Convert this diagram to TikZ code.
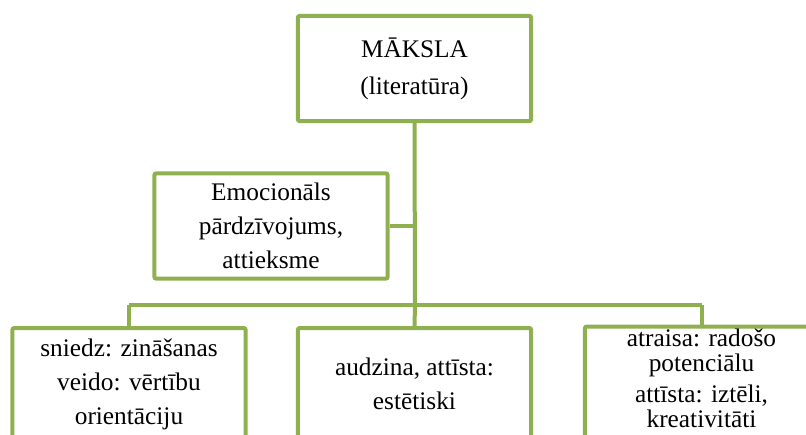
\documentclass[tikz,border=0pt]{standalone}
\usepackage{fontspec}
\setmainfont{Liberation Serif}
\usepackage{xcolor}
\usepackage{tikz}
\usetikzlibrary{positioning, calc}

\definecolor{leafgreen}{RGB}{142,176,78}

\begin{document}
\begin{tikzpicture}[
    x=0.75pt,
    y=-0.75pt,
    tree_box/.style={
        rectangle,
        draw=leafgreen,
        fill=white,
        line width=3pt,
        rounded corners=1.5pt,
        minimum width=175pt,
        minimum height=79pt,
        inner sep=2pt,
        align=center,
        font=\fontsize{19}{25.5}\selectfont
    },
    low_box/.style={tree_box, minimum height=84pt},
    link/.style={draw=leafgreen, line width=3pt}
]

    % Page frame
    \useasboundingbox (0,0) rectangle (806,435);
    \clip (0,0) rectangle (806,435);

    % Bus points
    \coordinate (trunk) at (415,305);
    \coordinate (busL) at (129,305);
    \coordinate (busR) at (701.5,305);

    % Boxes with manual positioning
    \node[tree_box, font=\fontsize{19}{27.75}\selectfont] (art) at (414.5,68.5) {MĀKSLA\\(literatūra)};

    \node[tree_box] (emo) at (271,226) {Emocionāls\\pārdzīvojums,\\attieksme};

    \node[low_box] (know) at (129,384) {sniedz: zināšanas\\veido: vērtību\\orientāciju};

    \node[low_box] (aest) at (414.5,384) {audzina, attīsta:\\estētiski};

    \node[low_box, font=\fontsize{19}{18.5}\selectfont, text depth=8.5pt] (creat) at (701.5,384) {atraisa: radošo\\potenciālu\\[5pt]attīsta: iztēli,\\kreativitāti};

    % Connectors
    \draw[link] (art.south) -- (trunk);
    \draw[link] (emo.east) -- (emo.east -| trunk);
    \draw[link] (busL) -- (busR);
    \draw[link] (busL) -- (know.north);
    \draw[link] (trunk) -- (aest.north);
    \draw[link] (busR) -- (creat.north);

\end{tikzpicture}
\end{document}
